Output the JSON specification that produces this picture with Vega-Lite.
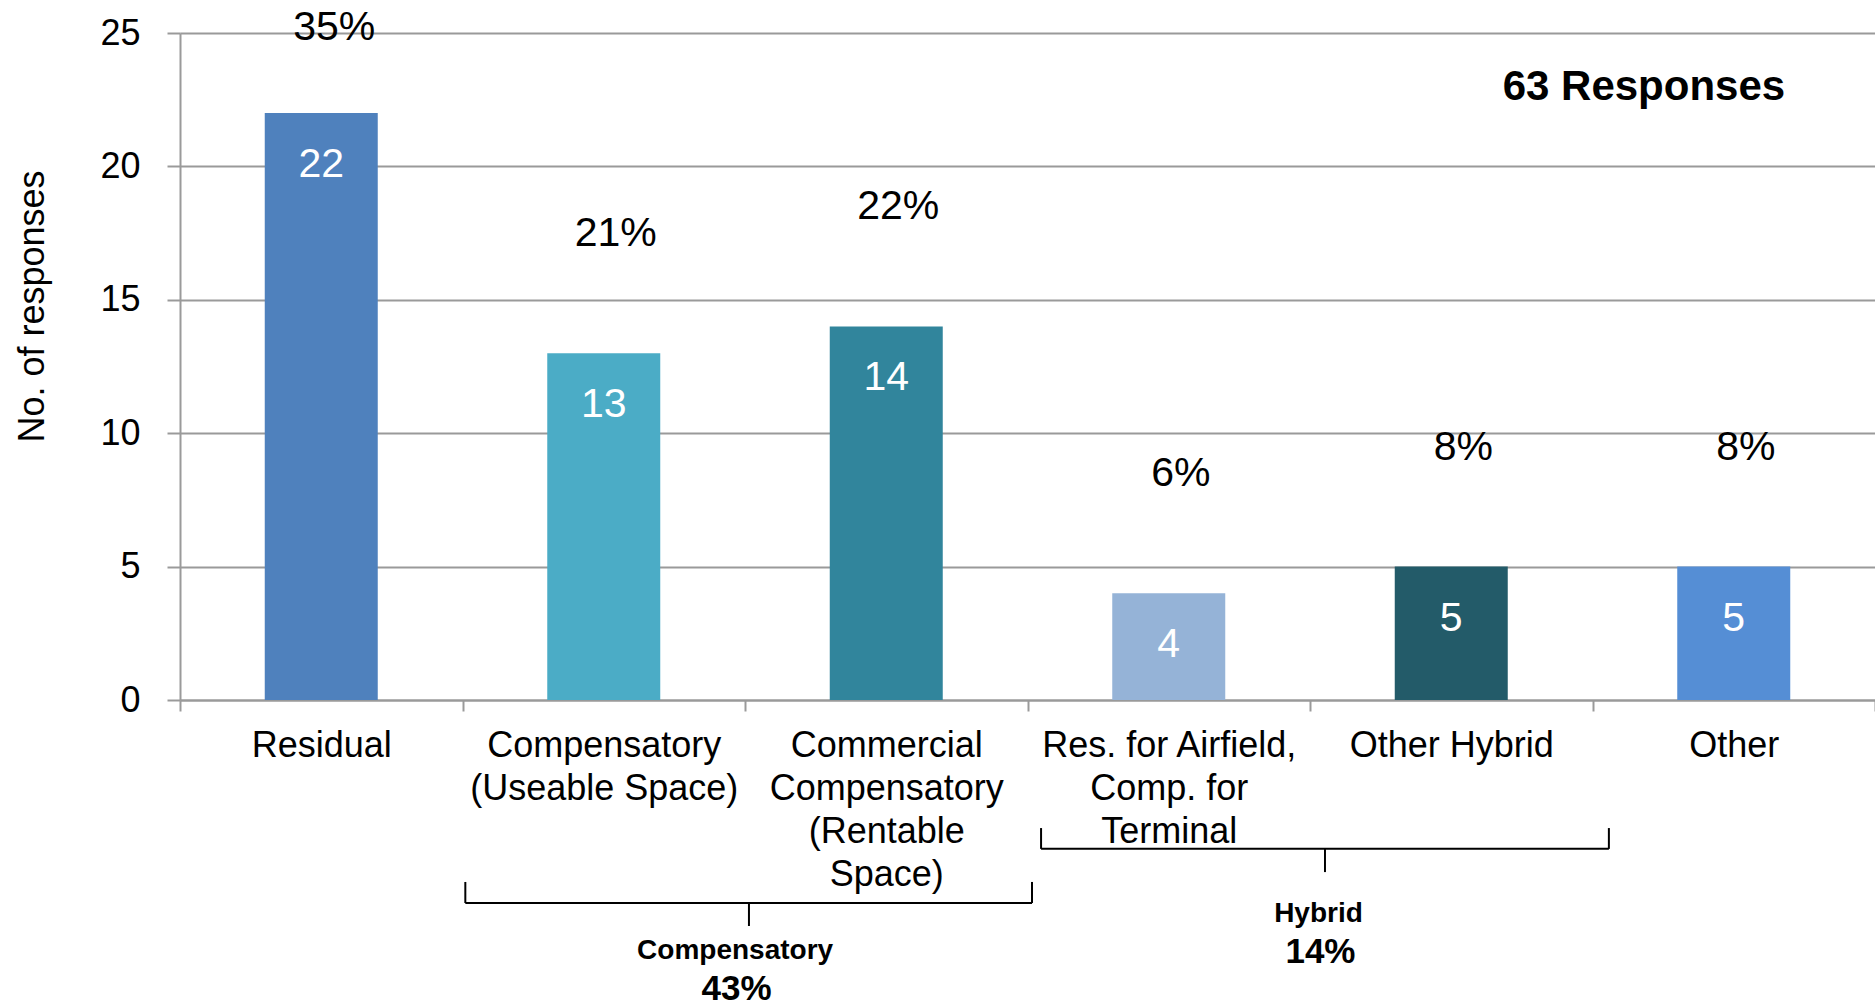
{
  "$schema": "https://vega.github.io/schema/vega-lite/v6.json",
  "autosize": {"type": "none"},
  "padding": {"left": 180, "top": 33, "right": 0, "bottom": 306},
  "width": 1695,
  "height": 667,
  "background": "white",
  "config": {
    "view": {"stroke": null},
    "font": "Liberation Sans",
    "text": {"font": "Liberation Sans"}
  },
  "datasets": {
    "responses": [
      {"approach": "Residual", "count": 22, "share": "35%"},
      {"approach": "Compensatory (Useable Space)", "count": 13, "share": "21%"},
      {"approach": "Commercial Compensatory (Rentable Space)", "count": 14, "share": "22%"},
      {"approach": "Res. for Airfield, Comp. for Terminal", "count": 4, "share": "6%"},
      {"approach": "Other Hybrid", "count": 5, "share": "8%"},
      {"approach": "Other", "count": 5, "share": "8%"}
    ],
    "groups": [
      {"group": "Compensatory", "share": "43%", "first": "Compensatory (Useable Space)", "last": "Commercial Compensatory (Rentable Space)"},
      {"group": "Hybrid", "share": "14%", "first": "Res. for Airfield, Comp. for Terminal", "last": "Other Hybrid"}
    ],
    "notes": [
      {"note": "63 Responses"}
    ]
  },
  "data": {"name": "responses"},
  "layer": [
    {
      "mark": {"type": "bar", "width": {"band": 0.4}},
      "encoding": {
        "x": {
          "field": "approach",
          "type": "nominal",
          "sort": null,
          "scale": {
            "domain": ["Residual", "Compensatory (Useable Space)", "Commercial Compensatory (Rentable Space)", "Res. for Airfield, Comp. for Terminal", "Other Hybrid", "Other"],
            "paddingInner": 0,
            "paddingOuter": 0
          },
          "axis": {
            "title": null,
            "labelAngle": 0,
            "labelFont": "Liberation Sans",
            "labelFontSize": 36,
            "labelColor": "#000000",
            "labelLineHeight": 43,
            "labelPadding": 17,
            "labelLimit": 0,
            "labelExpr": "datum.value == 'Compensatory (Useable Space)' ? ['Compensatory', '(Useable Space)'] : datum.value == 'Commercial Compensatory (Rentable Space)' ? ['Commercial', 'Compensatory', '(Rentable', 'Space)'] : datum.value == 'Res. for Airfield, Comp. for Terminal' ? ['Res. for Airfield,', 'Comp. for', 'Terminal'] : datum.label",
            "tickBand": "extent",
            "tickSize": 11,
            "tickWidth": 2,
            "tickColor": "#9a9a9a",
            "domainColor": "#9a9a9a",
            "domainWidth": 2,
            "grid": false
          }
        },
        "y": {
          "field": "count",
          "type": "quantitative",
          "scale": {"domain": [0, 25], "nice": false},
          "axis": {
            "title": "No. of responses",
            "titleFont": "Liberation Sans",
            "titleFontSize": 36,
            "titleFontWeight": "normal",
            "titleColor": "#000000",
            "titleAngle": 270,
            "titleAlign": "center",
            "titleBaseline": "alphabetic",
            "titleX": -137,
            "titleY": 273,
            "values": [0, 5, 10, 15, 20, 25],
            "labelFont": "Liberation Sans",
            "labelFontSize": 36,
            "labelColor": "#000000",
            "labelPadding": 27,
            "tickSize": 13,
            "tickWidth": 2,
            "tickColor": "#9a9a9a",
            "domainColor": "#9a9a9a",
            "domainWidth": 2,
            "grid": true,
            "gridColor": "#9a9a9a",
            "gridWidth": 2
          }
        },
        "color": {
          "field": "approach",
          "type": "nominal",
          "legend": null,
          "scale": {
            "domain": ["Residual", "Compensatory (Useable Space)", "Commercial Compensatory (Rentable Space)", "Res. for Airfield, Comp. for Terminal", "Other Hybrid", "Other"],
            "range": ["#4F81BD", "#4BACC6", "#31859C", "#95B3D7", "#235B69", "#558ED5"]
          }
        }
      }
    },
    {
      "mark": {"type": "text", "baseline": "middle", "align": "center", "dy": 52, "fontSize": 41, "color": "#ffffff"},
      "encoding": {
        "x": {"field": "approach", "type": "nominal", "sort": null},
        "y": {"field": "count", "type": "quantitative"},
        "text": {"field": "count", "type": "quantitative"}
      }
    },
    {
      "transform": [{"filter": "datum.approach != 'Residual'"}],
      "mark": {"type": "text", "baseline": "middle", "align": "center", "dy": -119, "dx": 12, "fontSize": 41, "color": "#000000"},
      "encoding": {
        "x": {"field": "approach", "type": "nominal", "sort": null},
        "y": {"field": "count", "type": "quantitative"},
        "text": {"field": "share", "type": "nominal"}
      }
    },
    {
      "transform": [{"filter": "datum.approach == 'Residual'"}],
      "mark": {"type": "text", "baseline": "middle", "align": "center", "dy": -85, "dx": 13, "fontSize": 41, "color": "#000000"},
      "encoding": {
        "x": {"field": "approach", "type": "nominal", "sort": null},
        "y": {"field": "count", "type": "quantitative"},
        "text": {"field": "share", "type": "nominal"}
      }
    },
    {
      "data": {"name": "notes"},
      "mark": {"type": "text", "baseline": "alphabetic", "align": "center", "fontSize": 42, "fontWeight": "bold", "color": "#000000"},
      "encoding": {
        "x": {"datum": "Other", "type": "nominal", "bandPosition": 0.182},
        "y": {"datum": 22.49, "type": "quantitative"},
        "text": {"field": "note", "type": "nominal"}
      }
    },
    {
      "data": {"name": "groups"},
      "transform": [{"filter": "datum.group == 'Compensatory'"}],
      "layer": [
        {
          "mark": {"type": "rule", "color": "#000000", "strokeWidth": 2},
          "encoding": {
            "x": {"field": "first", "type": "nominal", "bandPosition": 0.01},
            "x2": {"field": "last", "bandPosition": 1.016},
            "y": {"datum": -7.61, "type": "quantitative"}
          }
        },
        {
          "mark": {"type": "rule", "color": "#000000", "strokeWidth": 2},
          "encoding": {
            "x": {"field": "first", "type": "nominal", "bandPosition": 0.01},
            "y": {"datum": -6.82, "type": "quantitative"},
            "y2": {"datum": -7.61}
          }
        },
        {
          "mark": {"type": "rule", "color": "#000000", "strokeWidth": 2},
          "encoding": {
            "x": {"field": "last", "type": "nominal", "bandPosition": 1.016},
            "y": {"datum": -6.82, "type": "quantitative"},
            "y2": {"datum": -7.61}
          }
        },
        {
          "mark": {"type": "rule", "color": "#000000", "strokeWidth": 2},
          "encoding": {
            "x": {"field": "last", "type": "nominal", "bandPosition": 0.014},
            "y": {"datum": -7.61, "type": "quantitative"},
            "y2": {"datum": -8.47}
          }
        },
        {
          "mark": {"type": "text", "baseline": "alphabetic", "align": "center", "fontSize": 28, "fontWeight": "bold", "color": "#000000"},
          "encoding": {
            "x": {"field": "last", "type": "nominal", "bandPosition": -0.035},
            "y": {"datum": -9.72, "type": "quantitative"},
            "text": {"field": "group", "type": "nominal"}
          }
        },
        {
          "mark": {"type": "text", "baseline": "alphabetic", "align": "center", "fontSize": 35, "fontWeight": "bold", "color": "#000000"},
          "encoding": {
            "x": {"field": "last", "type": "nominal", "bandPosition": -0.03},
            "y": {"datum": -11.25, "type": "quantitative"},
            "text": {"field": "share", "type": "nominal"}
          }
        }
      ]
    },
    {
      "data": {"name": "groups"},
      "transform": [{"filter": "datum.group == 'Hybrid'"}],
      "layer": [
        {
          "mark": {"type": "rule", "color": "#000000", "strokeWidth": 2},
          "encoding": {
            "x": {"field": "first", "type": "nominal", "bandPosition": 0.048},
            "x2": {"field": "last", "bandPosition": 1.058},
            "y": {"datum": -5.58, "type": "quantitative"}
          }
        },
        {
          "mark": {"type": "rule", "color": "#000000", "strokeWidth": 2},
          "encoding": {
            "x": {"field": "first", "type": "nominal", "bandPosition": 0.048},
            "y": {"datum": -4.8, "type": "quantitative"},
            "y2": {"datum": -5.58}
          }
        },
        {
          "mark": {"type": "rule", "color": "#000000", "strokeWidth": 2},
          "encoding": {
            "x": {"field": "last", "type": "nominal", "bandPosition": 1.058},
            "y": {"datum": -4.8, "type": "quantitative"},
            "y2": {"datum": -5.58}
          }
        },
        {
          "mark": {"type": "rule", "color": "#000000", "strokeWidth": 2},
          "encoding": {
            "x": {"field": "last", "type": "nominal", "bandPosition": 0.053},
            "y": {"datum": -5.58, "type": "quantitative"},
            "y2": {"datum": -6.45}
          }
        },
        {
          "mark": {"type": "text", "baseline": "alphabetic", "align": "center", "fontSize": 28, "fontWeight": "bold", "color": "#000000"},
          "encoding": {
            "x": {"field": "last", "type": "nominal", "bandPosition": 0.03},
            "y": {"datum": -8.31, "type": "quantitative"},
            "text": {"field": "group", "type": "nominal"}
          }
        },
        {
          "mark": {"type": "text", "baseline": "alphabetic", "align": "center", "fontSize": 35, "fontWeight": "bold", "color": "#000000"},
          "encoding": {
            "x": {"field": "last", "type": "nominal", "bandPosition": 0.037},
            "y": {"datum": -9.87, "type": "quantitative"},
            "text": {"field": "share", "type": "nominal"}
          }
        }
      ]
    }
  ]
}
